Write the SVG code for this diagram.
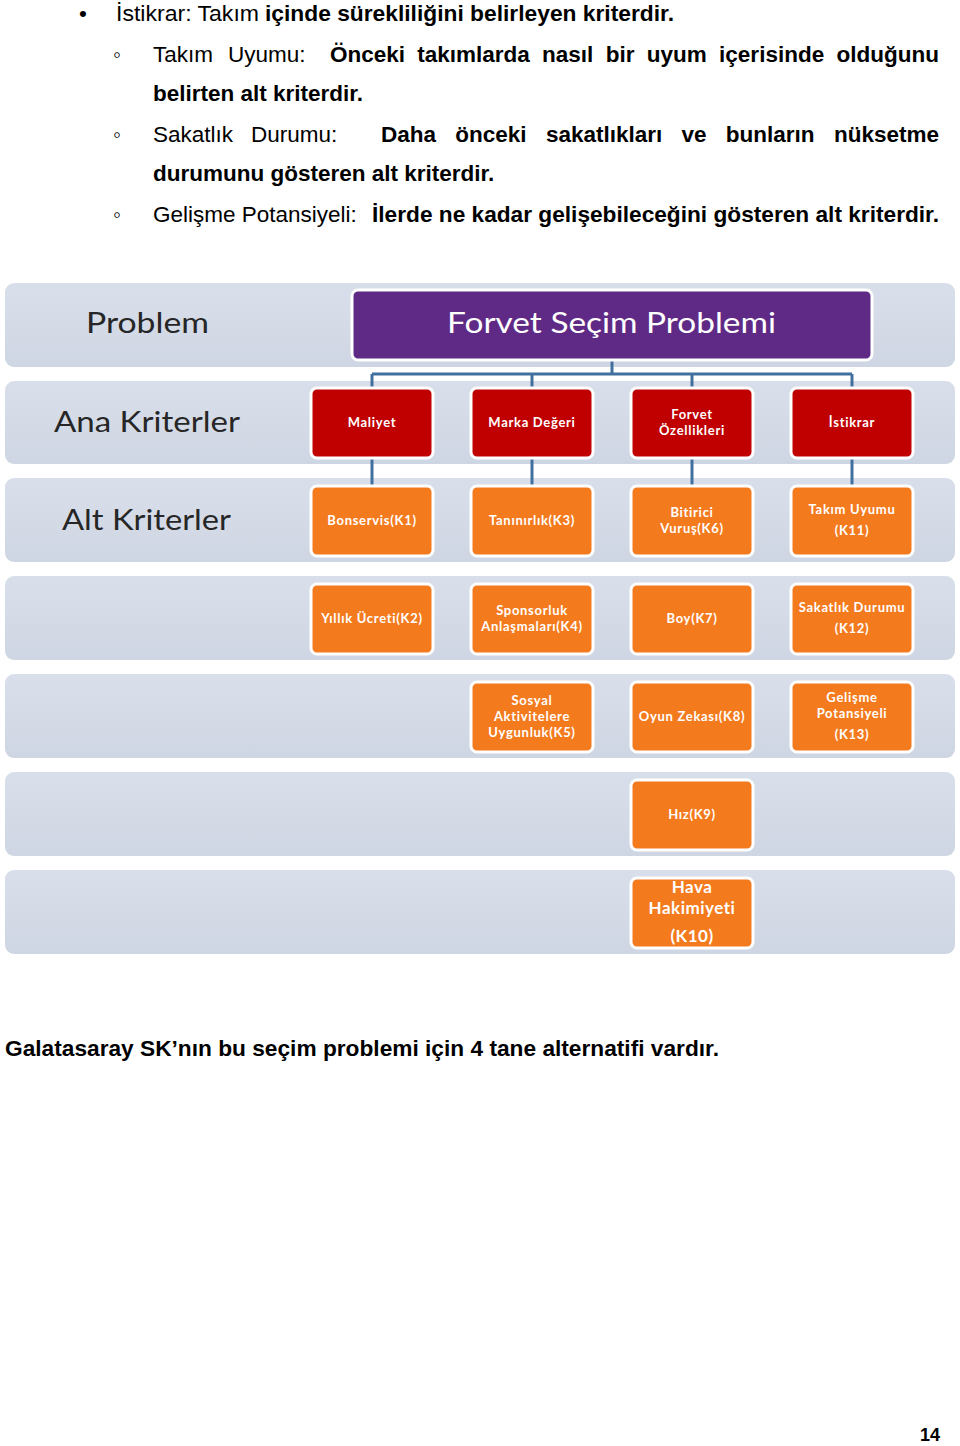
<svg xmlns="http://www.w3.org/2000/svg" width="960" height="1446" viewBox="0 0 960 1446">
<style>
.n{font-family:"Liberation Sans",Arial,sans-serif;font-size:22.5px;fill:#000}
.b{font-family:"Liberation Sans",Arial,sans-serif;font-size:22.5px;font-weight:bold;fill:#000}
.band{fill:url(#bg)}
.lbl{font-family:Lato,"Open Sans",sans-serif;font-size:28px;fill:#262626}
.pur{fill:#5F2A86;stroke:#fff;stroke-width:3}
.red{fill:#C00000;stroke:#fff;stroke-width:3}
.org{fill:#F47A1E;stroke:#fff;stroke-width:3}
.bt{font-family:Lato,"Open Sans",sans-serif;font-size:13px;font-weight:bold;letter-spacing:0.7px;fill:#fff;text-anchor:middle}
.big{font-family:Lato,"Open Sans",sans-serif;font-size:17px;font-weight:bold;letter-spacing:0.5px;fill:#fff;text-anchor:middle}
.con{stroke:#41709F;stroke-width:3;fill:none}
</style>
<defs>
<linearGradient id="bg" x1="0" y1="0" x2="0" y2="1">
<stop offset="0" stop-color="#D9DFEA"/>
<stop offset="1" stop-color="#CFD6E3"/>
</linearGradient>
</defs>
<rect width="960" height="1446" fill="#fff"/>

<g id="body-text">
<text class="n" x="79" y="21">•</text>
<text class="n" x="116" y="21" textLength="143" lengthAdjust="spacingAndGlyphs">İstikrar: Takım</text>
<text class="b" x="265" y="21" textLength="409" lengthAdjust="spacingAndGlyphs">içinde sürekliliğini belirleyen kriterdir.</text>

<text class="n" x="113" y="62">◦</text>
<text class="n" y="62"><tspan x="153">Takım</tspan><tspan x="228">Uyumu:</tspan></text>
<text class="b" y="62"><tspan x="330">Önceki</tspan><tspan x="417.3">takımlarda</tspan><tspan x="542.1">nasıl</tspan><tspan x="605.7">bir</tspan><tspan x="646.8">uyum</tspan><tspan x="719.1">içerisinde</tspan><tspan x="836.5">olduğunu</tspan></text>
<text class="b" x="153" y="101">belirten alt kriterdir.</text>

<text class="n" x="113" y="142">◦</text>
<text class="n" y="142"><tspan x="153">Sakatlık</tspan><tspan x="251">Durumu:</tspan></text>
<text class="b" y="142"><tspan x="381">Daha</tspan><tspan x="455.3">önceki</tspan><tspan x="545.9">sakatlıkları</tspan><tspan x="681.5">ve</tspan><tspan x="725.8">bunların</tspan><tspan x="833.9">nüksetme</tspan></text>
<text class="b" x="153" y="181">durumunu gösteren alt kriterdir.</text>

<text class="n" x="113" y="222">◦</text>
<text class="n" x="153" y="222">Gelişme Potansiyeli:</text>
<text class="b" x="372" y="222" textLength="567" lengthAdjust="spacingAndGlyphs">İlerde ne kadar gelişebileceğini gösteren alt kriterdir.</text>

<text class="b" x="5" y="1056" textLength="714" lengthAdjust="spacingAndGlyphs">Galatasaray SK’nın bu seçim problemi için 4 tane alternatifi vardır.</text>
<text class="b" x="920" y="1441" style="font-size:18px">14</text>
</g>

<g id="bands">
<rect class="band" x="5" y="283" width="950" height="84" rx="9"/>
<rect class="band" x="5" y="381" width="950" height="83" rx="9"/>
<rect class="band" x="5" y="478" width="950" height="84" rx="9"/>
<rect class="band" x="5" y="576" width="950" height="84" rx="9"/>
<rect class="band" x="5" y="674" width="950" height="84" rx="9"/>
<rect class="band" x="5" y="772" width="950" height="84" rx="9"/>
<rect class="band" x="5" y="870" width="950" height="84" rx="9"/>
<text class="lbl" x="86" y="333" textLength="123" lengthAdjust="spacingAndGlyphs">Problem</text>
<text class="lbl" x="54" y="432" textLength="186" lengthAdjust="spacingAndGlyphs">Ana Kriterler</text>
<text class="lbl" x="62" y="530" textLength="169" lengthAdjust="spacingAndGlyphs">Alt Kriterler</text>
</g>

<g id="connectors">
<path class="con" d="M612 360V374M372 374H852M372 374V388M532 374V388M692 374V388M852 374V388"/>
<path class="con" d="M372 458V486M532 458V486M692 458V486M852 458V486"/>
</g>

<g id="problem">
<rect class="pur" x="352" y="290" width="520" height="70" rx="6"/>
<text x="447" y="333" font-family="Lato,'Open Sans',sans-serif" font-size="29" fill="#fff" textLength="329" lengthAdjust="spacingAndGlyphs">Forvet Seçim Problemi</text>
</g>

<g id="maliyet"><rect class="red" x="311" y="388" width="122" height="70" rx="6"/><text class="bt" x="372" y="427">Maliyet</text></g>
<g id="marka"><rect class="red" x="471" y="388" width="122" height="70" rx="6"/><text class="bt" x="532" y="427">Marka Değeri</text></g>
<g id="forvet"><rect class="red" x="631" y="388" width="122" height="70" rx="6"/><text class="bt" y="419"><tspan x="692">Forvet</tspan><tspan x="692" dy="16">Özellikleri</tspan></text></g>
<g id="istikrar"><rect class="red" x="791" y="388" width="122" height="70" rx="6"/><text class="bt" x="852" y="427">İstikrar</text></g>

<g id="k1"><rect class="org" x="311" y="486" width="122" height="70" rx="6"/><text class="bt" x="372" y="525">Bonservis(K1)</text></g>
<g id="k3"><rect class="org" x="471" y="486" width="122" height="70" rx="6"/><text class="bt" x="532" y="525">Tanınırlık(K3)</text></g>
<g id="k6"><rect class="org" x="631" y="486" width="122" height="70" rx="6"/><text class="bt" y="517"><tspan x="692">Bitirici</tspan><tspan x="692" dy="16">Vuruş(K6)</tspan></text></g>
<g id="k11"><rect class="org" x="791" y="486" width="122" height="70" rx="6"/><text class="bt" y="514"><tspan x="852">Takım Uyumu</tspan><tspan x="852" dy="21">(K11)</tspan></text></g>

<g id="k2"><rect class="org" x="311" y="584" width="122" height="70" rx="6"/><text class="bt" x="372" y="623">Yıllık Ücreti(K2)</text></g>
<g id="k4"><rect class="org" x="471" y="584" width="122" height="70" rx="6"/><text class="bt" y="615"><tspan x="532">Sponsorluk</tspan><tspan x="532" dy="16">Anlaşmaları(K4)</tspan></text></g>
<g id="k7"><rect class="org" x="631" y="584" width="122" height="70" rx="6"/><text class="bt" x="692" y="623">Boy(K7)</text></g>
<g id="k12"><rect class="org" x="791" y="584" width="122" height="70" rx="6"/><text class="bt" y="612"><tspan x="852">Sakatlık Durumu</tspan><tspan x="852" dy="21">(K12)</tspan></text></g>

<g id="k5"><rect class="org" x="471" y="682" width="122" height="70" rx="6"/><text class="bt" y="705"><tspan x="532">Sosyal</tspan><tspan x="532" dy="16">Aktivitelere</tspan><tspan x="532" dy="16">Uygunluk(K5)</tspan></text></g>
<g id="k8"><rect class="org" x="631" y="682" width="122" height="70" rx="6"/><text class="bt" x="692" y="721">Oyun Zekası(K8)</text></g>
<g id="k13"><rect class="org" x="791" y="682" width="122" height="70" rx="6"/><text class="bt" y="702"><tspan x="852">Gelişme</tspan><tspan x="852" dy="16">Potansiyeli</tspan><tspan x="852" dy="21">(K13)</tspan></text></g>

<g id="k9"><rect class="org" x="631" y="780" width="122" height="70" rx="6"/><text class="bt" x="692" y="819">Hız(K9)</text></g>
<g id="k10"><rect class="org" x="631" y="878" width="122" height="70" rx="6"/><text class="big" y="893"><tspan x="692">Hava</tspan><tspan x="692" dy="21">Hakimiyeti</tspan><tspan x="692" dy="28">(K10)</tspan></text></g>
</svg>
